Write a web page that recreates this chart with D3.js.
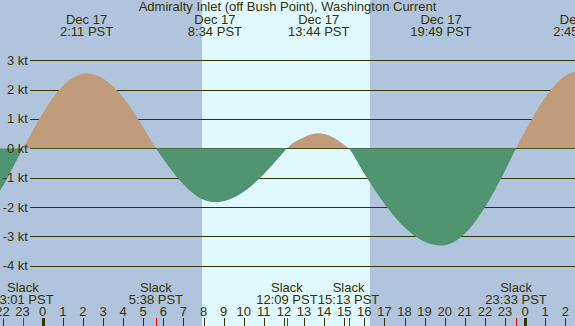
<!DOCTYPE html>
<html>
<head>
<meta charset="utf-8">
<script src="https://cdn.jsdelivr.net/npm/d3@7"></script>
<style>
  body { margin: 0; background: #fff; }
  svg { display: block; font-family: "Liberation Sans", Arial, sans-serif; }
</style>
</head>
<body>
<svg id="chart" width="575" height="326"></svg>
<script>
// hours after Dec 17 00:00 PST, current speed in knots
var hours = [-4, -3, -2, -1, -0.983, 0, 1, 2, 2.183, 3, 4, 5, 5.633, 6, 7, 8, 8.567, 9, 10, 11, 12, 12.15, 13, 13.733, 14, 15, 15.217, 16, 17, 18, 19, 19.817, 20, 21, 22, 23, 23.55, 24, 25, 26, 26.75];
var knots = [-2.6, -2.26, -1.31, -0.02, 0, 1.19, 2.12, 2.54, 2.55, 2.38, 1.73, 0.72, 0, -0.36, -1.22, -1.75, -1.83, -1.80, -1.48, -0.88, -0.12, 0, 0.38, 0.51, 0.49, 0.12, 0, -0.87, -1.89, -2.69, -3.18, -3.31, -3.30, -2.91, -2.01, -0.76, 0, 0.58, 1.73, 2.47, 2.65];

// max / min events shown on top
var peakHours = [2.183, 8.567, 13.733, 19.817, 26.75];
var peakLabels = ["2:11 PST", "8:34 PST", "13:44 PST", "19:49 PST", "2:45 PST"];

// slack events shown at the bottom
var slackHours = [-0.983, 5.633, 12.15, 15.217, 23.55];
var slackLabels = ["23:01 PST", "5:38 PST", "12:09 PST", "15:13 PST", "23:33 PST"];

// daylight (sunrise, sunset)
var sunHours = [7.93, 16.28];

var kTicks = [3, 2, 1, 0, -1, -2, -3, -4];
var hourTicks = d3.range(-2, 27);

var W = 575, H = 326;
var ink = "#333300";

var svg = d3.select("#chart");

var x = d3.scaleLinear().domain([0, 24]).range([42.7, 525.1]);
var y = d3.scaleLinear().domain([-4, 3]).range([265.7, 60.3]);

// night background + day band
svg.append("rect").attr("width", W).attr("height", H).attr("fill", "#b0c4de");
svg.append("rect")
  .attr("x", x(sunHours[0])).attr("y", 0)
  .attr("width", x(sunHours[1]) - x(sunHours[0])).attr("height", H)
  .attr("fill", "#e0f8ff");

// grid lines
svg.append("g").selectAll("line")
  .data(kTicks)
  .enter().append("line")
    .attr("x1", 30).attr("x2", W)
    .attr("y1", function(d) { return Math.round(y(d)) + 0.5; })
    .attr("y2", function(d) { return Math.round(y(d)) + 0.5; })
    .attr("stroke", ink).attr("stroke-width", 1);

var pts = hours.map(function(h, i) { return [h, knots[i]]; });

var defs = svg.append("defs");
defs.append("clipPath").attr("id", "clipUp")
  .append("rect").attr("x", 0).attr("y", 0).attr("width", W).attr("height", y(0));
defs.append("clipPath").attr("id", "clipDown")
  .append("rect").attr("x", 0).attr("y", y(0)).attr("width", W).attr("height", H - y(0));

var area = d3.area()
  .curve(d3.curveMonotoneX)
  .x(function(d) { return x(d[0]); })
  .y0(y(0))
  .y1(function(d) { return y(d[1]); });

svg.append("path").datum(pts)
  .attr("d", area).attr("fill", "#c09c7a").attr("clip-path", "url(#clipUp)");
svg.append("path").datum(pts)
  .attr("d", area).attr("fill", "#509470").attr("clip-path", "url(#clipDown)");

// knot labels
svg.append("g").selectAll("text")
  .data(kTicks)
  .enter().append("text")
    .attr("x", 28).attr("y", function(d) { return y(d) + 4.5; })
    .attr("text-anchor", "end")
    .attr("font-size", 13).attr("fill", ink)
    .text(function(d) { return (d < 0 ? "-" + Math.abs(d) : d) + " kt"; });

// title
svg.append("text")
  .attr("x", 287.5).attr("y", 11)
  .attr("text-anchor", "middle").attr("font-size", 13).attr("fill", ink)
  .text("Admiralty Inlet (off Bush Point), Washington Current");

// peak labels
var peakG = svg.append("g").selectAll("g")
  .data(peakHours)
  .enter().append("g")
    .attr("transform", function(d) { return "translate(" + x(d) + ",0)"; })
    .attr("font-size", 13).attr("fill", ink).attr("text-anchor", "middle");
peakG.append("text").attr("y", 24).text("Dec 17");
peakG.append("text").attr("y", 36).text(function(d, i) { return peakLabels[i]; });

// slack labels
var slackG = svg.append("g").selectAll("g")
  .data(slackHours)
  .enter().append("g")
    .attr("transform", function(d) { return "translate(" + x(d) + ",0)"; })
    .attr("font-size", 13).attr("fill", ink).attr("text-anchor", "middle");
slackG.append("text").attr("y", 292).text("Slack");
slackG.append("text").attr("y", 304).text(function(d, i) { return slackLabels[i]; });

// hour labels and ticks
svg.append("g").selectAll("text")
  .data(hourTicks)
  .enter().append("text")
    .attr("x", function(d) { return x(d); }).attr("y", 316)
    .attr("text-anchor", "middle").attr("font-size", 13).attr("fill", ink)
    .text(function(d) { return ((d % 24) + 24) % 24; });

svg.append("g").selectAll("line")
  .data(hourTicks)
  .enter().append("line")
    .attr("x1", function(d) { return Math.round(x(d)) + 0.5; })
    .attr("x2", function(d) { return Math.round(x(d)) + 0.5; })
    .attr("y1", 318).attr("y2", H)
    .attr("stroke", ink)
    .attr("stroke-width", function(d) { return d % 24 == 0 ? 3 : 1; });

svg.append("g").selectAll("line")
  .data(slackHours)
  .enter().append("line")
    .attr("x1", function(d) { return Math.round(x(d)) + 0.5; })
    .attr("x2", function(d) { return Math.round(x(d)) + 0.5; })
    .attr("y1", 318).attr("y2", H)
    .attr("stroke", "#ff0000").attr("stroke-width", 1);
</script>
</body>
</html>
